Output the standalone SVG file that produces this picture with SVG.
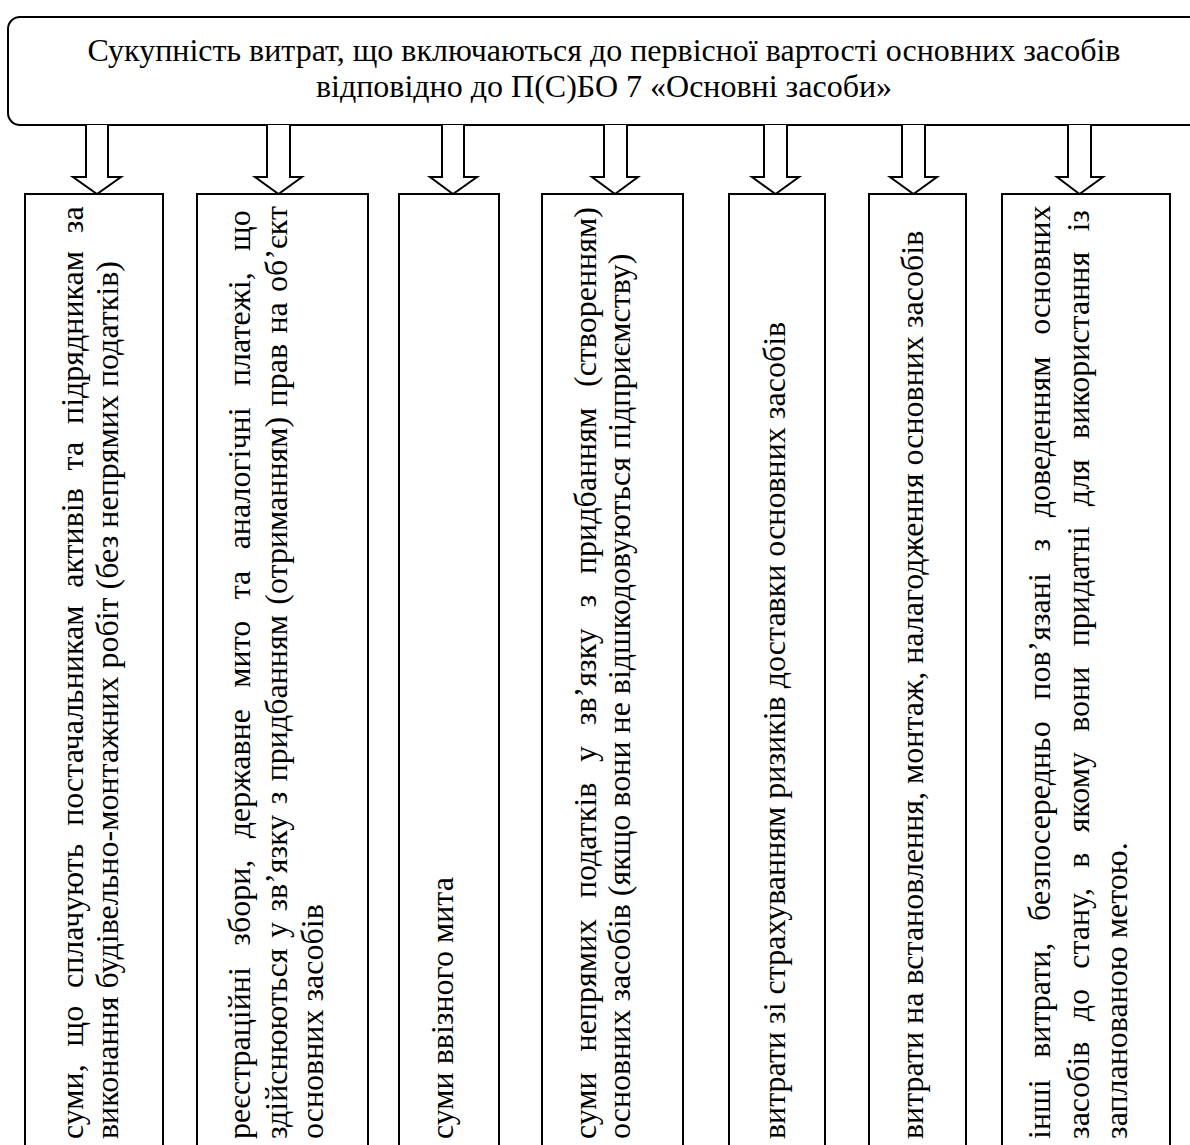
<svg xmlns="http://www.w3.org/2000/svg" width="1190" height="1145" viewBox="0 0 1190 1145">
<style>
.bx{fill:#fff;stroke:#000;stroke-width:2}
.ar{fill:#fff;stroke:#000;stroke-width:2;stroke-linejoin:miter}
text{font-family:"Liberation Serif","Times New Roman",serif;font-size:32px;fill:#000}
.t{text-anchor:middle}
</style>
<rect width="1190" height="1145" fill="#fff"/>
<g id="top">
<rect class="bx" x="8" y="17" width="1210" height="108" rx="12" ry="12"/>
<text class="t" x="604" y="61">Сукупність витрат, що включаються до первісної вартості основних засобів</text>
<text class="t" x="604" y="97">відповідно до П(С)БО 7 «Основні засоби»</text>
</g>
<g id="connectors">
<path class="ar" d="M86,125 V177 H73 L97,194 L121,177 H108 V125"/>
<path class="ar" d="M267,125 V177 H255 L278.5,194 L302,177 H290 V125"/>
<path class="ar" d="M442,125 V177 H430 L453,194 L477,177 H464 V125"/>
<path class="ar" d="M604,125 V177 H592 L615,194 L638,177 H627 V125"/>
<path class="ar" d="M764,125 V177 H752 L775.5,194 L799,177 H787 V125"/>
<path class="ar" d="M902,125 V177 H890 L913.5,194 L937,177 H925 V125"/>
<path class="ar" d="M1068,125 V177 H1057 L1079.5,194 L1103,177 H1091 V125"/>
</g>
<g id="n1">
<rect class="bx" x="25" y="194" width="138" height="980"/>
<text transform="translate(83,1139) rotate(-90)" style="word-spacing:9.8px">суми, що сплачують постачальникам активів та підрядникам за</text>
<text transform="translate(118,1139) rotate(-90)">виконання будівельно-монтажних робіт (без непрямих податків)</text>
</g>
<g id="n2">
<rect class="bx" x="197" y="194" width="171" height="980"/>
<text transform="translate(250,1139) rotate(-90)" style="word-spacing:13.4px">реєстраційні збори, державне мито та аналогічні платежі, що</text>
<text transform="translate(287,1139) rotate(-90)" style="word-spacing:2.4px">здійснюються у зв’язку з придбанням (отриманням) прав на об’єкт</text>
<text transform="translate(323,1139) rotate(-90)">основних засобів</text>
</g>
<g id="n3">
<rect class="bx" x="399" y="194" width="100" height="980"/>
<text transform="translate(453,1139) rotate(-90)">суми ввізного мита</text>
</g>
<g id="n4">
<rect class="bx" x="542" y="194" width="141" height="980"/>
<text transform="translate(596,1139) rotate(-90)" style="word-spacing:12.8px">суми непрямих податків у зв’язку з придбанням (створенням)</text>
<text transform="translate(630,1139) rotate(-90)">основних засобів (якщо вони не відшкодовуються підприємству)</text>
</g>
<g id="n5">
<rect class="bx" x="729" y="194" width="96" height="980"/>
<text transform="translate(785,1139) rotate(-90)">витрати зі страхуванням ризиків доставки основних засобів</text>
</g>
<g id="n6">
<rect class="bx" x="869" y="194" width="97" height="980"/>
<text transform="translate(923,1139) rotate(-90)">витрати на встановлення, монтаж, налагодження основних засобів</text>
</g>
<g id="n7">
<rect class="bx" x="1002" y="194" width="168" height="980"/>
<text transform="translate(1050,1139) rotate(-90)" style="word-spacing:13.7px">інші витрати, безпосередньо пов’язані з доведенням основних</text>
<text transform="translate(1089,1139) rotate(-90)" style="word-spacing:12.3px">засобів до стану, в якому вони придатні для використання із</text>
<text transform="translate(1127,1139) rotate(-90)">запланованою метою.</text>
</g>
</svg>
